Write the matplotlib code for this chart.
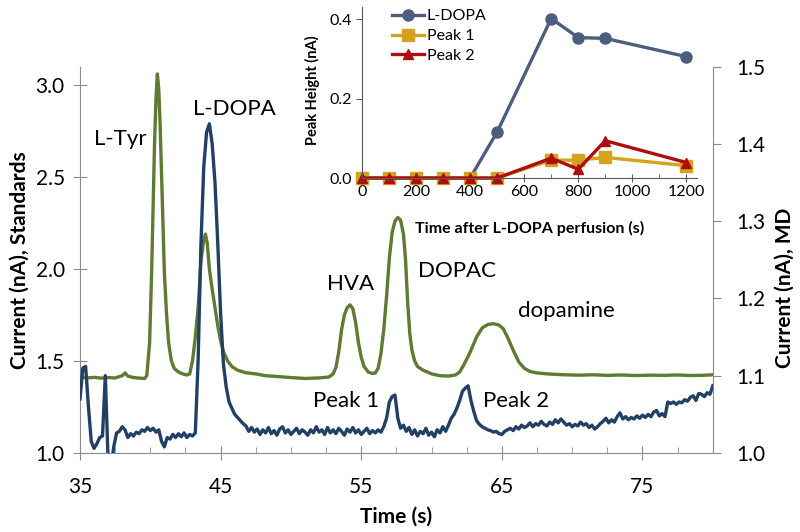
import numpy as np
import matplotlib
matplotlib.use("Agg")
import matplotlib.pyplot as plt

plt.rcParams["font.family"] = ["Lato", "DejaVu Sans"]

# standards chromatogram (left axis)
t_std = [35.0, 35.5, 36.0, 36.5, 37.0, 37.5, 38.0, 38.2, 38.4, 38.8, 39.2, 39.6,
         39.75, 39.95, 40.1, 40.3, 40.4, 40.5, 40.6, 40.7, 40.85, 41.0, 41.15, 41.3,
         41.5, 41.7, 42.0, 42.3, 42.6, 42.8, 43.0, 43.2, 43.4, 43.6, 43.8, 43.92,
         44.05, 44.2, 44.4, 44.6, 44.8, 45.0, 45.2, 45.5, 45.8, 46.2, 46.8, 47.5,
         48.2, 49.0, 50.0, 51.0, 52.0, 52.7, 53.0, 53.2, 53.4, 53.6, 53.8, 54.0,
         54.2, 54.4, 54.6, 54.8, 55.0, 55.2, 55.5, 55.8, 56.0, 56.2, 56.4, 56.6,
         56.8, 57.0, 57.2, 57.4, 57.6, 57.8, 58.0, 58.15, 58.3, 58.45, 58.6, 58.8,
         59.0, 59.4, 60.0, 60.6, 61.2, 61.7, 62.0, 62.3, 62.7, 63.2, 63.6, 64.0,
         64.4, 64.8, 65.1, 65.4, 65.8, 66.2, 66.6, 67.0, 67.5, 68.4, 69.5, 70.5,
         71.5, 72.5, 73.5, 74.5, 75.5, 76.5, 77.5, 78.5, 79.5, 80.0]
i_std = [1.412, 1.408, 1.411, 1.407, 1.41, 1.408, 1.42, 1.435, 1.418, 1.41, 1.407, 1.405,
         1.42, 1.6, 2.0, 2.68, 2.92, 3.06, 2.98, 2.78, 2.38, 1.98, 1.76, 1.6,
         1.5, 1.46, 1.44, 1.43, 1.424, 1.43, 1.5, 1.63, 1.79, 2.04, 2.16, 2.19,
         2.14, 2.0, 1.89, 1.79, 1.69, 1.61, 1.55, 1.5, 1.47, 1.45, 1.436, 1.43,
         1.42, 1.416, 1.41, 1.405, 1.408, 1.413, 1.43, 1.465, 1.55, 1.67, 1.75, 1.79,
         1.805, 1.785, 1.71, 1.6, 1.52, 1.47, 1.44, 1.432, 1.435, 1.46, 1.54, 1.67,
         1.85, 2.06, 2.2, 2.26, 2.28, 2.265, 2.19, 2.05, 1.82, 1.65, 1.56, 1.5,
         1.47, 1.45, 1.43, 1.42, 1.418, 1.424, 1.44, 1.48, 1.54, 1.63, 1.68, 1.698,
         1.703, 1.695, 1.675, 1.63, 1.56, 1.495, 1.46, 1.443, 1.435, 1.429, 1.425, 1.423,
         1.425, 1.422, 1.424, 1.421, 1.423, 1.422, 1.424, 1.421, 1.423, 1.425]

# microdialysate trace (right axis), one reading every 0.2 s from 35 s
i_md = [1.07, 1.11, 1.112, 1.06, 1.015, 1.006, 1.012, 1.02, 1.022, 1.10,
        0.99, 0.98, 1.008, 1.026, 1.028, 1.034, 1.03, 1.02, 1.025, 1.022,
        1.027, 1.025, 1.03, 1.028, 1.033, 1.029, 1.032, 1.027, 1.03, 1.015,
        1.008, 1.02, 1.018, 1.024, 1.02, 1.025, 1.021, 1.026, 1.02, 1.024,
        1.022, 1.026, 1.12, 1.27, 1.37, 1.415, 1.426, 1.40, 1.35, 1.27,
        1.18, 1.115, 1.085, 1.066, 1.058, 1.05, 1.046, 1.042, 1.038, 1.035,
        1.028, 1.033, 1.027, 1.031, 1.024, 1.03, 1.026, 1.033, 1.025, 1.029,
        1.023, 1.031, 1.034, 1.026, 1.03, 1.024, 1.028, 1.032, 1.025, 1.03,
        1.027, 1.023, 1.03, 1.026, 1.034, 1.027, 1.03, 1.024, 1.033, 1.026,
        1.03, 1.025, 1.032, 1.028, 1.023, 1.031, 1.027, 1.033, 1.026, 1.03,
        1.024, 1.028, 1.032, 1.025, 1.029, 1.026, 1.03, 1.027, 1.034, 1.045,
        1.066, 1.073, 1.075, 1.045, 1.032, 1.036, 1.028, 1.033, 1.024, 1.03,
        1.022, 1.028, 1.025, 1.032, 1.023, 1.027, 1.021, 1.03, 1.026, 1.034,
        1.028, 1.036, 1.045, 1.05, 1.058, 1.068, 1.08, 1.084, 1.087, 1.068,
        1.054, 1.042, 1.037, 1.034, 1.032, 1.03, 1.029, 1.027, 1.028, 1.025,
        1.024, 1.028, 1.03, 1.032, 1.029, 1.034, 1.031, 1.036, 1.033, 1.035,
        1.039, 1.034, 1.038, 1.036, 1.041, 1.037, 1.035, 1.04, 1.037, 1.043,
        1.039, 1.044, 1.04, 1.036, 1.038, 1.034, 1.037, 1.035, 1.04, 1.036,
        1.038, 1.033, 1.036, 1.031, 1.034, 1.038, 1.041, 1.045, 1.039, 1.043,
        1.04, 1.047, 1.052, 1.044, 1.047, 1.043, 1.046, 1.044, 1.048, 1.045,
        1.049, 1.046, 1.05, 1.047, 1.053, 1.055, 1.048, 1.051, 1.047, 1.066,
        1.064, 1.066, 1.063, 1.066, 1.065, 1.069, 1.067, 1.072, 1.074, 1.068,
        1.077, 1.076, 1.073, 1.078, 1.076, 1.087]
t_md = 35.0 + 0.2 * np.arange(len(i_md))

# inset: peak heights after L-DOPA perfusion
perf_time = [0, 100, 200, 300, 400, 500, 700, 800, 900, 1200]
ldopa_h = [0, 0, 0, 0, 0, 0.116, 0.402, 0.354, 0.352, 0.306]
peak1_h = [0, 0, 0, 0, 0, 0, 0.045, 0.045, 0.052, 0.031]
peak2_h = [0, 0, 0, 0, 0, 0, 0.050, 0.022, 0.094, 0.039]

peak_names = ["L-Tyr", "L-DOPA", "HVA", "DOPAC", "dopamine", "Peak 1", "Peak 2"]

GREEN = "#5E7B31"
NAVY = "#223F66"
SPINE = "#8C8C8C"

fig = plt.figure(figsize=(8, 5.32), dpi=100)
ax = fig.add_axes([0.1, 0.1485, 0.791, 0.7263])
ax2 = ax.twinx()

ax.plot(t_std, i_std, color=GREEN, lw=2.4, solid_joinstyle="round")
ax2.plot(t_md, i_md, color=NAVY, lw=2.4, solid_joinstyle="round")

ax.set_xlim(35, 80)
ax.set_ylim(1.0, 3.1)
ax2.set_ylim(1.0, 1.5)
ax.set_xticks([35, 45, 55, 65, 75])
ax.set_xticks(np.arange(37.5, 80, 2.5), minor=True)
ax.set_yticks([1.0, 1.5, 2.0, 2.5, 3.0])
ax2.set_yticks([1.0, 1.1, 1.2, 1.3, 1.4, 1.5])
ax.yaxis.set_major_formatter("{x:.1f}")
ax2.yaxis.set_major_formatter("{x:.1f}")

for a in (ax, ax2):
    a.spines["top"].set_visible(False)
    for s in a.spines.values():
        s.set_color(SPINE)
ax.spines["right"].set_visible(False)
ax2.spines["left"].set_visible(False)
ax2.spines["bottom"].set_visible(False)

ax.tick_params(axis="x", which="major", direction="inout", length=10, color=SPINE,
               labelsize=15, pad=12)
ax.tick_params(axis="x", which="minor", direction="in", length=4, color=SPINE)
ax.tick_params(axis="y", direction="inout", length=10, color=SPINE, labelsize=15, pad=6)
ax2.tick_params(axis="y", direction="out", length=6, color=SPINE, labelsize=15, pad=11)

ax.set_xlabel("Time (s)", fontsize=15, fontweight="bold")
ax.xaxis.set_label_coords(0.5, -0.14)
ax.set_ylabel("Current (nA), Standards", fontsize=15, fontweight="bold")
ax.yaxis.set_label_coords(-0.08, 0.5)
ax2.set_ylabel("Current (nA), MD", fontsize=15, fontweight="bold")
ax2.yaxis.set_label_coords(1.098, 0.427)

label_pos = [(37.84, 2.707), (46.0, 2.87), (54.26, 1.918), (61.8, 1.99),
             (69.6, 1.77), (53.9, 1.283), (66.0, 1.283)]
for name, (tx, ty) in zip(peak_names, label_pos):
    ax.text(tx, ty, name, fontsize=16, ha="center", va="center")

# inset
ins = fig.add_axes([0.4525, 0.6654, 0.419, 0.3206])
ins.patch.set_alpha(0)
ins.plot(perf_time, ldopa_h, color="#4B5E80", lw=2.4, marker="o", ms=8,
         clip_on=False, label="L-DOPA")
ins.plot(perf_time, peak1_h, color="#D4A21C", lw=2.4, marker="s", ms=8,
         clip_on=False, label="Peak 1")
ins.plot(perf_time, peak2_h, color="#AE0E0E", lw=2.4, marker="^", ms=7,
         clip_on=False, label="Peak 2")
ins.set_xlim(0, 1240)
ins.set_ylim(0, 0.43)
ins.set_xticks(np.arange(0, 1201, 200))
ins.set_xticks(np.arange(100, 1201, 200), minor=True)
ins.set_yticks([0.0, 0.2, 0.4])
ins.yaxis.set_major_formatter("{x:.1f}")
ins.spines["top"].set_visible(False)
ins.spines["right"].set_visible(False)
for s in ("left", "bottom"):
    ins.spines[s].set_color("#595959")
ins.tick_params(axis="x", which="major", direction="inout", length=6, color="#595959",
                labelsize=11.5, pad=2)
ins.tick_params(axis="x", which="minor", direction="in", length=3, color="#595959")
ins.tick_params(axis="y", direction="out", length=4, color="#595959", labelsize=11.5, pad=3)
ins.set_xlabel("Time after L-DOPA perfusion (s)", fontsize=11.5, fontweight="bold")
ins.xaxis.set_label_coords(0.5, -0.25)
ins.set_ylabel("Peak Height (nA)", fontsize=10.5, fontweight="bold")
ins.yaxis.set_label_coords(-0.125, 0.516)
ins.legend(loc="upper left", bbox_to_anchor=(0.09, 0.99), frameon=False, fontsize=11.5,
           handlelength=2.0, handletextpad=0.15, labelspacing=0.35, borderpad=0,
           borderaxespad=0)

fig.savefig("out.png", dpi=100)
